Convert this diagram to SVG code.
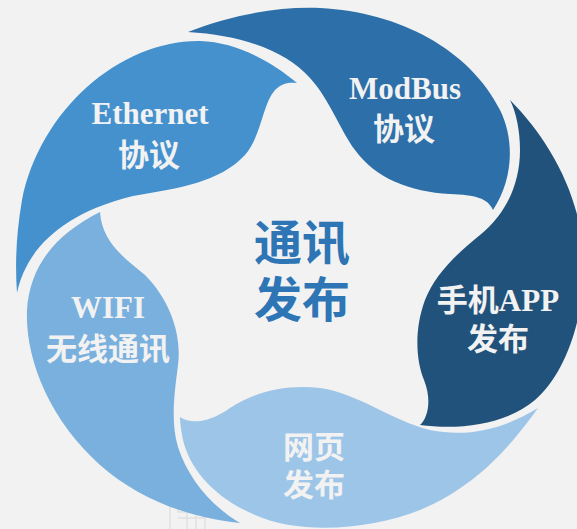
<svg xmlns="http://www.w3.org/2000/svg" width="577" height="529" viewBox="0 0 577 529">
<style>
.lbl{font-family:"Liberation Serif","Noto Sans CJK SC",serif;font-weight:bold;font-size:31px;fill:#F2F2F2;text-anchor:middle}
.ctr{font-family:"Noto Sans CJK SC",sans-serif;font-weight:bold;font-size:48px;fill:#2E75B6;text-anchor:middle}
</style>
<rect width="577" height="529" fill="#F2F2F2"/>
<g id="watermark" fill="none" stroke="#DDDDDD" stroke-width="1.5" opacity="0.8">
<path d="M170,529 V500 H178 V512 H205 V529"/>
<path d="M178,518 H205 M187,512 V529 M196,512 V529"/>
</g>
<g id="connectors"></g>
<g id="ethernet">
<path fill="#4591CE" d="M297,83 C270,60 235,42 200,41 C120,40 40,110 22,200 C16,235 15,265 17,293 C25,255 55,215 133,196 C180,188 220,182 245,155 C262,135 262,105 275,90 C282,83 290,82 297,83 Z"/>
<text class="lbl" x="150" y="124" font-size="30">Ethernet</text>
<text class="lbl" x="149" y="166">协议</text>
</g>
<g id="modbus">
<path fill="#2C6FA9" d="M188,32 C230,15 280,6 320,8 C400,12 470,50 500,110 C515,140 513,180 493,210 C488,198 475,195 450,194 C410,192 375,178 355,150 C340,130 330,100 310,78 C285,50 240,35 188,32 Z"/>
<text class="lbl" x="405" y="99" font-size="30">ModBus</text>
<text class="lbl" x="404" y="140">协议</text>
</g>
<g id="app">
<path fill="#21527B" d="M510,100 C545,135 575,185 582,240 C590,300 570,370 535,400 C505,425 460,430 420,425 C428,418 432,400 424,380 C416,360 414,330 425,300 C435,275 455,255 480,235 C505,215 520,185 520,150 C520,130 516,112 510,100 Z"/>
<text class="lbl" x="498" y="311">手机APP</text>
<text class="lbl" x="498" y="350">发布</text>
</g>
<g id="web">
<path fill="#9DC5E8" d="M180,417 C192,425 210,422 230,408 C255,392 285,384 320,388 C360,394 390,420 430,430 C470,438 505,428 538,408 C515,440 480,485 420,510 C370,530 300,535 255,515 C215,498 190,470 183,440 C181,430 180,423 180,417 Z"/>
<text class="lbl" x="314" y="458">网页</text>
<text class="lbl" x="314" y="496">发布</text>
</g>
<g id="wifi">
<path fill="#7AB0DD" d="M100,212 C60,232 30,262 27,310 C25,360 50,420 100,465 C140,500 190,518 240,523 C210,505 188,478 178,447 C170,420 175,390 178,365 C182,335 170,300 145,275 C120,255 102,240 100,212 Z"/>
<text class="lbl" x="108" y="318" font-size="30">WIFI</text>
<text class="lbl" x="108" y="360">无线通讯</text>
</g>
<g id="center">
<text class="ctr" x="302" y="260">通讯</text>
<text class="ctr" x="302" y="317">发布</text>
</g>
</svg>
